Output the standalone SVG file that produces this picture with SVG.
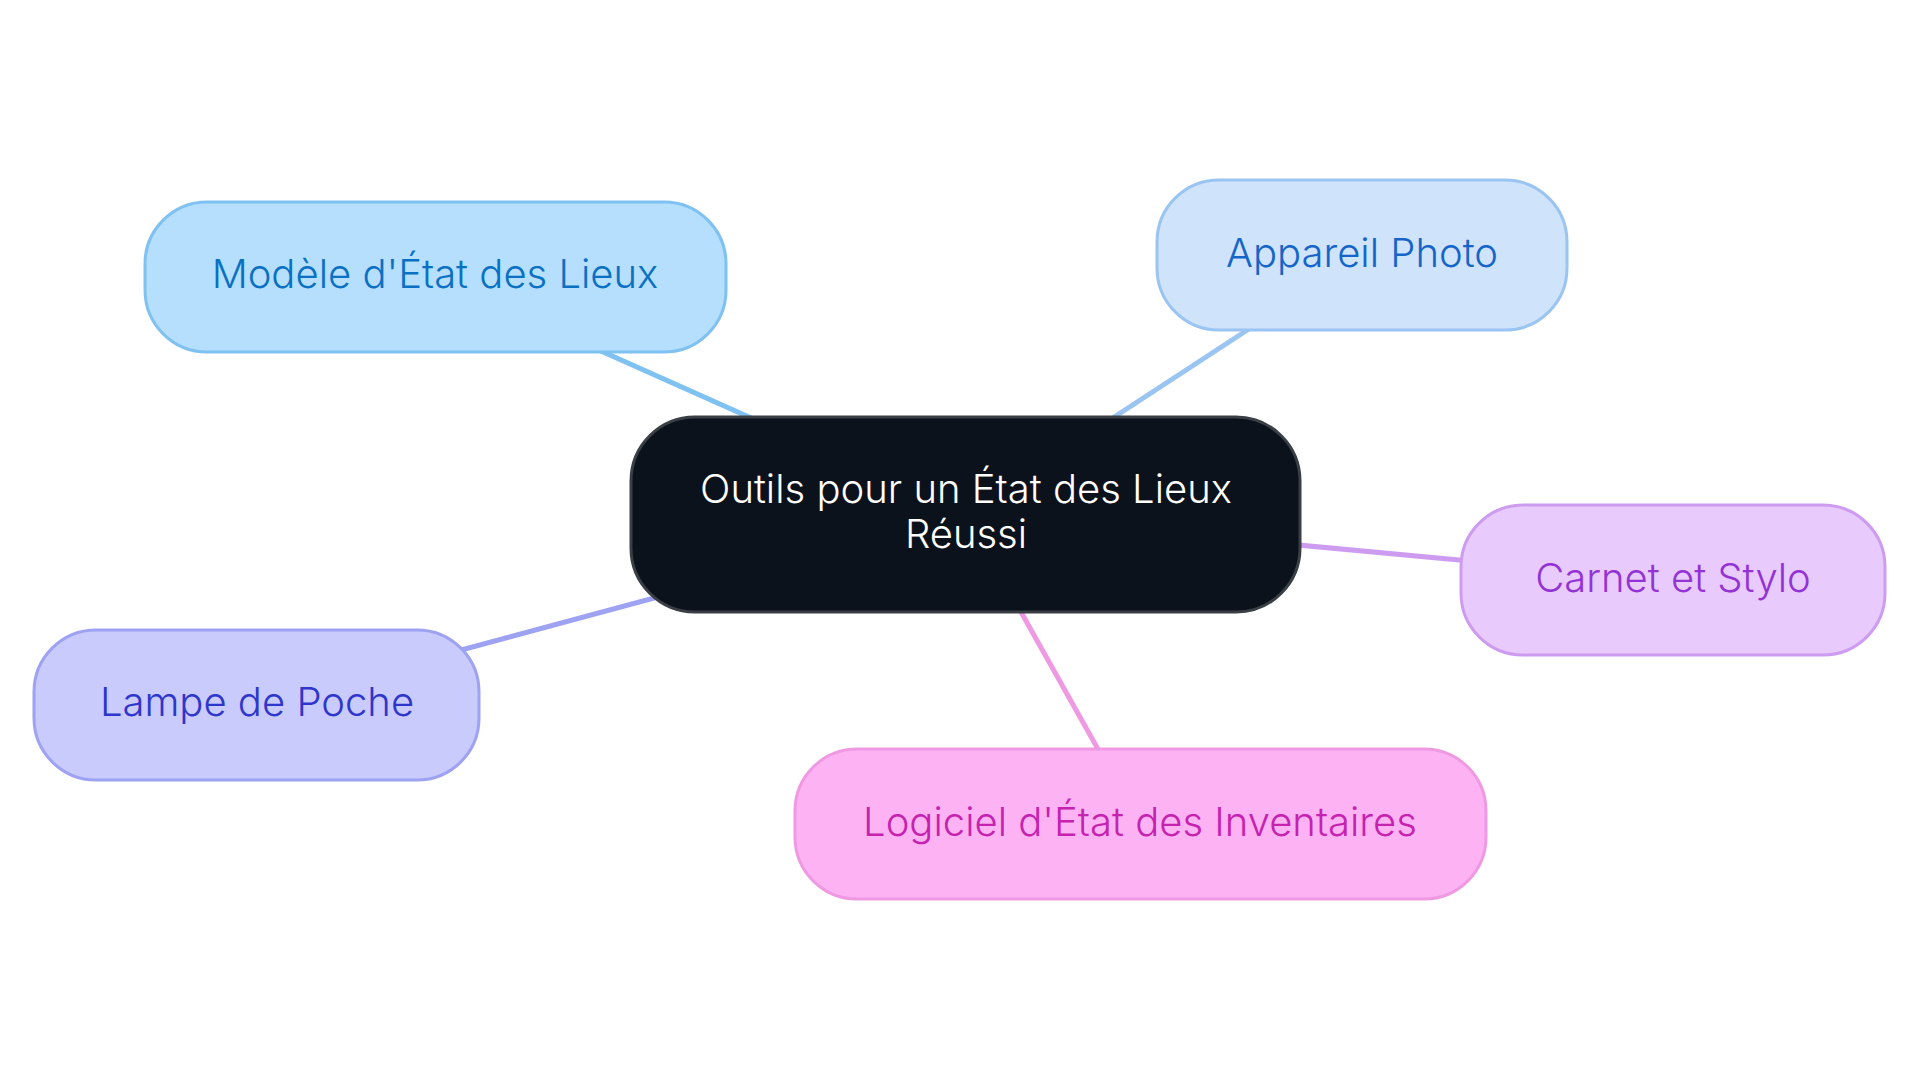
<svg xmlns="http://www.w3.org/2000/svg" width="1920" height="1083" viewBox="0 0 1920 1083">
<style>
.lbl{font-family:Inter,"Noto Sans","Liberation Sans",sans-serif;font-size:40px;font-weight:350;text-anchor:middle}
.edge{fill:none;stroke-width:5}
.node{stroke-width:3}
</style>
<rect width="1920" height="1083" fill="#ffffff"/>
<g id="connectors">
<line class="edge" x1="435" y1="277" x2="966" y2="514" stroke="#7fc2f1"/>
<line class="edge" x1="1362" y1="255" x2="966" y2="514" stroke="#9ac4f1"/>
<line class="edge" x1="1673" y1="580" x2="966" y2="514" stroke="#cd9bf0"/>
<line class="edge" x1="1140" y1="824" x2="966" y2="514" stroke="#ef99e3"/>
<line class="edge" x1="257" y1="705" x2="966" y2="514" stroke="#9ea2f3"/>
</g>
<g id="center">
<rect x="631" y="417" width="669" height="195" rx="64" fill="#0c121b" stroke="#3a3f46" stroke-width="3"/>
<text class="lbl" x="966" y="503" fill="#ffffff">Outils pour un État des Lieux</text>
<text class="lbl" x="966" y="548" fill="#ffffff">Réussi</text>
</g>
<g id="modele">
<rect class="node" x="145" y="202" width="581" height="150" rx="62" fill="#b5dffd" stroke="#7fc2f1"/>
<text class="lbl" x="435" y="288" fill="#0a70c4">Modèle d'État des Lieux</text>
</g>
<g id="appareil">
<rect class="node" x="1157" y="180" width="410" height="150" rx="62" fill="#cfe3fb" stroke="#9ac4f1"/>
<text class="lbl" x="1362" y="267" fill="#1565c9">Appareil Photo</text>
</g>
<g id="carnet">
<rect class="node" x="1461" y="505" width="424" height="150" rx="62" fill="#e8cbfc" stroke="#cd9bf0"/>
<text class="lbl" x="1673" y="592" fill="#9333d6">Carnet et Stylo</text>
</g>
<g id="logiciel">
<rect class="node" x="795" y="749" width="691" height="150" rx="62" fill="#fdb3f3" stroke="#ef99e3"/>
<text class="lbl" x="1140" y="836" fill="#c522b0">Logiciel d'État des Inventaires</text>
</g>
<g id="lampe">
<rect class="node" x="34" y="630" width="445" height="150" rx="62" fill="#c9cbfc" stroke="#9ea2f3"/>
<text class="lbl" x="257" y="716" fill="#2f36cc">Lampe de Poche</text>
</g>
</svg>
